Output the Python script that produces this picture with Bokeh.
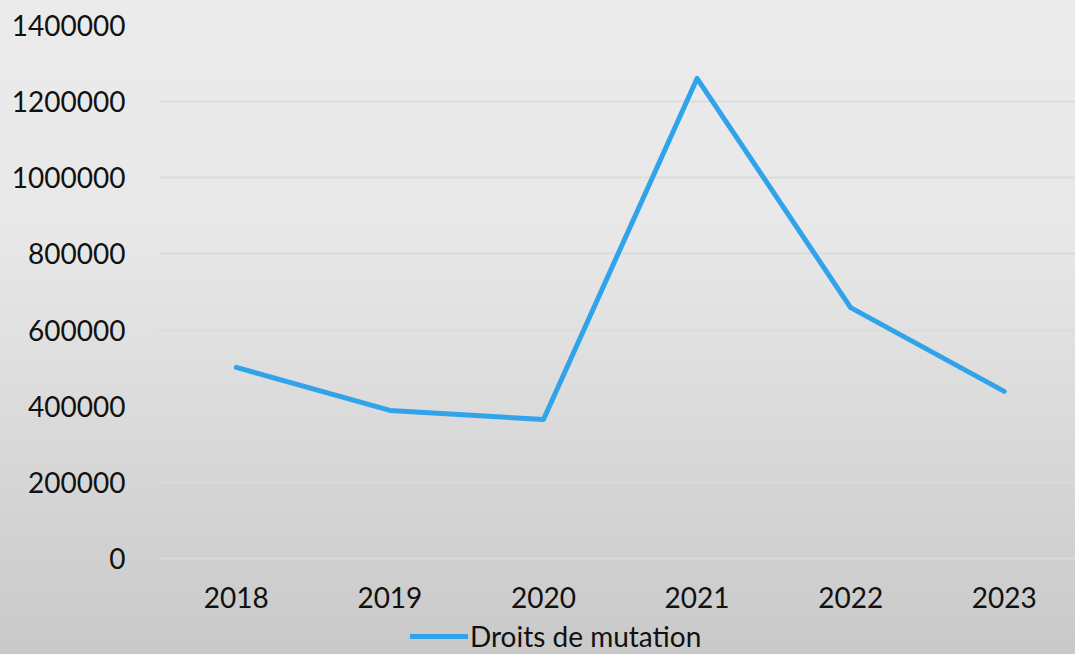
from bokeh.plotting import figure
from bokeh.models import FixedTicker, Legend, LegendItem, Range1d
from bokeh.embed import file_html
from bokeh.resources import INLINE

years = ["2018", "2019", "2020", "2021", "2022", "2023"]
droits = [502000, 389000, 365000, 1261000, 659000, 439000]
y_ticks = [0, 200000, 400000, 600000, 800000, 1000000, 1200000, 1400000]
series_name = "Droits de mutation"

FONT = "Lato"
xs = list(range(len(years)))

# layout: top tick at 25px, zero at 558px, picture bottom at 654px
top_px, zero_px, bottom_px = 25, 558, 654
y_max = y_ticks[-1]
y_min = -y_max * (bottom_px - zero_px) / (zero_px - top_px)

p = figure(width=1075, height=654, output_backend="svg", toolbar_location=None,
           x_range=Range1d(-0.5, 5.464), y_range=Range1d(y_min, y_max),
           min_border_left=159, min_border_right=0, min_border_top=top_px, min_border_bottom=0)
p.styles = {"background": "linear-gradient(to bottom, #ebebeb 0%, #e8e8e8 35%, #dadada 65%, #c9c9c9 100%)"}
p.background_fill_alpha = 0
p.border_fill_alpha = 0
p.outline_line_color = None

r = p.line(xs, droits, line_color="#31a3ea", line_width=5, line_join="round", line_cap="round")

p.xaxis.fixed_location = 0
p.xaxis.ticker = FixedTicker(ticks=xs)
p.xaxis.major_label_overrides = {i: y for i, y in enumerate(years)}
p.yaxis.ticker = FixedTicker(ticks=y_ticks)
p.yaxis.major_label_overrides = {v: str(v) for v in y_ticks}
for ax in (p.xaxis, p.yaxis):
    ax.axis_line_color = None
    ax.major_tick_line_color = None
    ax.minor_tick_line_color = None
    ax.major_label_text_font = FONT
    ax.major_label_text_font_size = "28px"
    ax.major_label_text_color = "#111111"
p.yaxis.major_label_standoff = 28
p.xaxis.major_label_standoff = 22

p.xgrid.grid_line_color = None
p.ygrid.ticker = FixedTicker(ticks=y_ticks)
p.ygrid.grid_line_color = "#dcdcdc"
p.ygrid.grid_line_width = 2

legend = Legend(items=[LegendItem(label=series_name, renderers=[r])],
                location=(251, 1), padding=0, margin=0, border_line_color=None,
                background_fill_alpha=0, glyph_width=58, glyph_height=30,
                label_height=30, label_standoff=2, label_text_font=FONT,
                label_text_font_size="28px", label_text_color="#111111")
p.add_layout(legend, "center")

open("out.html", "w").write(file_html(p, INLINE))
